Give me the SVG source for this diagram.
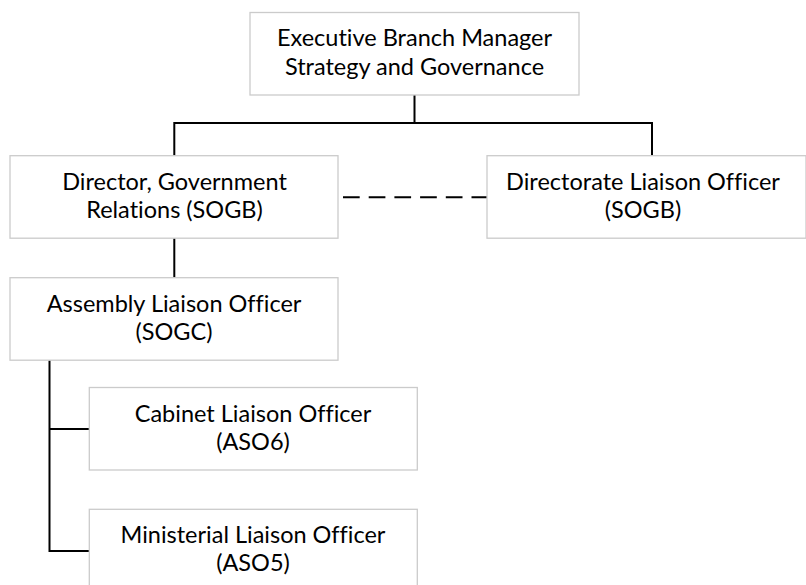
<svg xmlns="http://www.w3.org/2000/svg" width="806" height="585" viewBox="0 0 806 585">
<style>
.box{fill:#ffffff;stroke:#cbcbcb;stroke-width:1.3}
.lbl{font-family:Lato,"Open Sans","Liberation Sans",sans-serif;font-size:23.5px;fill:#000000;text-anchor:middle;font-variant-ligatures:none;font-feature-settings:"liga" 0,"dlig" 0}
.ln{fill:none;stroke:#000000;stroke-width:2;stroke-linejoin:miter;stroke-linecap:butt}
.dash{stroke-dasharray:16.7 9}
</style>
<rect width="806" height="585" fill="#ffffff"/>
<g id="connectors">
<polyline class="ln" points="414.5,95 414.5,123"/>
<polyline class="ln" points="174.3,156 174.3,123 652,123 652,156"/>
<line class="ln dash" x1="343" y1="197.3" x2="487" y2="197.3"/>
<line class="ln" x1="174.3" y1="238" x2="174.3" y2="278"/>
<polyline class="ln" points="49.5,360 49.5,551 89,551"/>
<line class="ln" x1="49.5" y1="429" x2="89" y2="429"/>
</g>
<g id="executive">
<rect class="box" x="250" y="12.5" width="329" height="82.5"/>
<text class="lbl" x="414.5" y="46">Executive Branch Manager</text>
<text class="lbl" x="414.5" y="74.5">Strategy and Governance</text>
</g>
<g id="director">
<rect class="box" x="10" y="155.7" width="328" height="82.5"/>
<text class="lbl" x="174.5" y="189.5">Director, Government</text>
<text class="lbl" x="174.5" y="218">Relations (SOGB)</text>
</g>
<g id="directorate">
<rect class="box" x="487" y="155.7" width="319" height="82.5"/>
<text class="lbl" x="643" y="189.5">Directorate Liaison Officer</text>
<text class="lbl" x="643" y="218">(SOGB)</text>
</g>
<g id="assembly">
<rect class="box" x="10" y="277.7" width="328" height="82.5"/>
<text class="lbl" x="174" y="311.5">Assembly Liaison Officer</text>
<text class="lbl" x="174" y="340">(SOGC)</text>
</g>
<g id="cabinet">
<rect class="box" x="89.3" y="387.5" width="328" height="82.5"/>
<text class="lbl" x="253" y="421.5">Cabinet Liaison Officer</text>
<text class="lbl" x="253" y="450">(ASO6)</text>
</g>
<g id="ministerial">
<rect class="box" x="89.3" y="509.3" width="328" height="82.5"/>
<text class="lbl" x="253" y="543">Ministerial Liaison Officer</text>
<text class="lbl" x="253" y="571">(ASO5)</text>
</g>
</svg>
